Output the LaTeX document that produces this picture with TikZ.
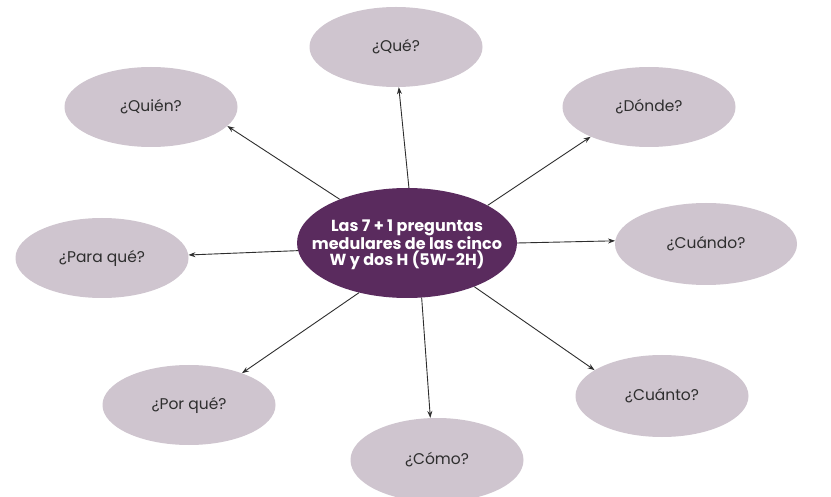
\documentclass[tikz,border=0pt]{standalone}
\usepackage{fontspec}
\setmainfont{Poppins}
\usetikzlibrary{shapes.geometric,arrows.meta}
\definecolor{hubfill}{HTML}{5A2B5E}
\definecolor{petalfill}{HTML}{CFC5CF}
\definecolor{ink}{HTML}{2E2E2E}
\begin{document}
\begin{tikzpicture}[x=1pt,y=-1pt,
  petal/.style={ellipse, fill=petalfill, inner sep=0pt,
    minimum width=173pt, minimum height=80pt,
    text=ink, font=\fontsize{15.5}{17}\selectfont},
  hub/.style={ellipse, fill=hubfill, inner sep=0pt,
    minimum width=220pt, minimum height=110pt},
  hubtext/.style={text=white, align=center, inner sep=0pt,
    font=\bfseries\fontsize{16}{14.5}\selectfont},
  link/.style={draw=ink, line width=0.9pt,
    -{Stealth[length=7pt,width=5pt]}}]
\fill[white] (0,0) rectangle (831,497);
\useasboundingbox (0,0) rectangle (831,497);
\clip (0,0) rectangle (831,497);

% central question: the ellipse, then its caption on top
\node[hub] (c) at (407,243) {};
\node[hubtext] (ctext) at ([yshift=-2pt]c.center) {Las 7 + 1 preguntas\\medulares de las cinco\\W y dos H (5W-2H)};

% the eight questions around it
\node[petal] (que)    at (396,47)  {¿Qué?};
\node[petal] (quien)  at (151,107) {¿Quién?};
\node[petal] (donde)  at (649,107) {¿Dónde?};
\node[petal] (para)   at (102,258) {¿Para qué?};
\node[petal, minimum width=182pt, minimum height=82pt] (cuando) at (706,244) {¿Cuándo?};
\node[petal] (porque) at (189,405) {¿Por qué?};
\node[petal, minimum height=82pt] (cuanto) at (662,396) {¿Cuánto?};
\node[petal, minimum height=84pt] (como)   at (437,460) {¿Cómo?};

% connectors
\draw[link] (c.88)    -- (que.-86);
\draw[link] (c.147.7) -- (quien.-14);
\draw[link] (c.25)    -- (donde.-153);
\draw[link] (c.184.7) -- (para.2.5);
\draw[link] (c.0)     -- (cuando.178);
\draw[link] (c.-134.4) -- (porque.31);
\draw[link] (c.-33)   -- (cuanto.159.5);
\draw[link] (c.-75.7) -- (como.99.7);
\end{tikzpicture}
\end{document}
